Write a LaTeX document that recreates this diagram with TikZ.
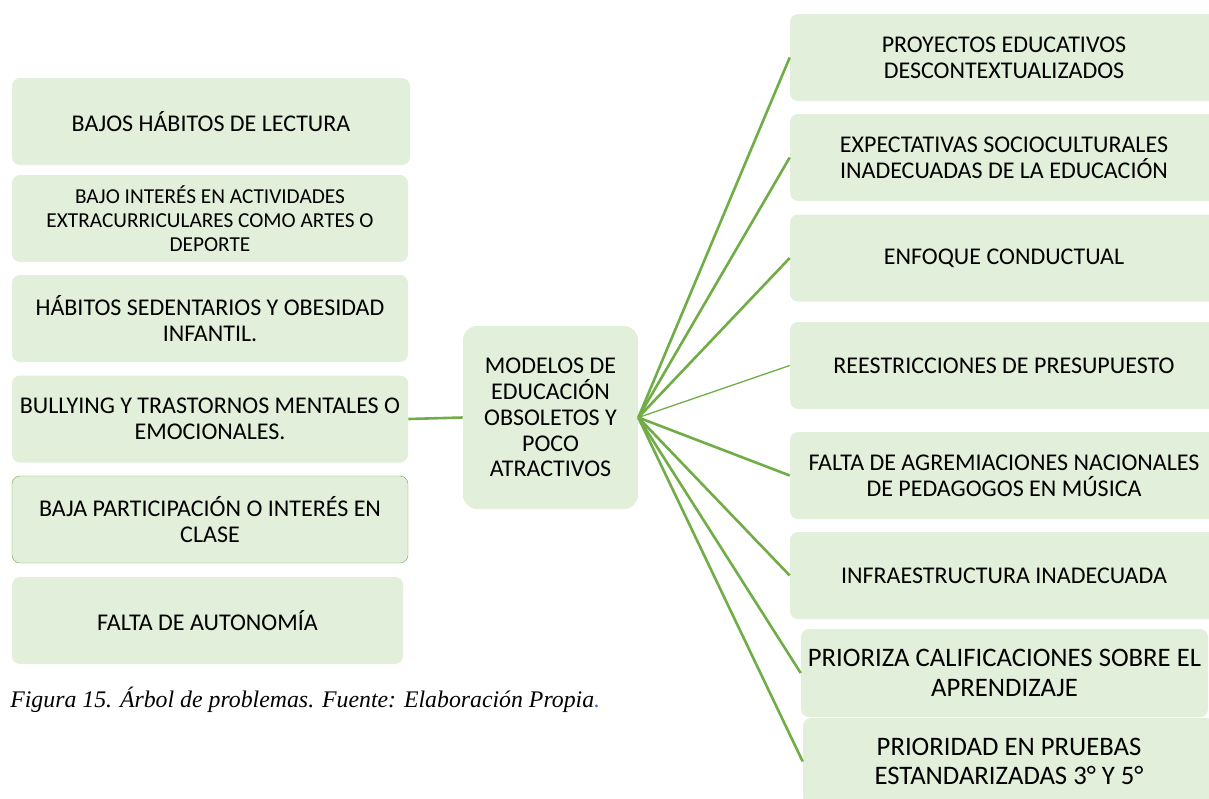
\documentclass[tikz,border=0pt]{standalone}
\usepackage{fontspec}
\setmainfont{Carlito}
\newfontfamily\capfont{Liberation Serif}
\usetikzlibrary{positioning}
\definecolor{boxgreen}{HTML}{E2EFDA}
\definecolor{linegreen}{HTML}{70AD47}
\definecolor{capblue}{HTML}{4472C4}

\begin{document}
\begin{tikzpicture}[x=1pt,y=-1pt,semithick]
 \tikzset{
 	cause node/.style={rectangle,rounded corners=8pt,fill=boxgreen,align=center,inner sep=2pt,
 	  minimum width=397pt,minimum height=87pt,font=\fontsize{24}{25.8}\selectfont},
 	small node/.style={cause node,font=\fontsize{21.3}{24}\selectfont},
 	effect node/.style={cause node,minimum width=428pt},
 	big node/.style={cause node,minimum width=407pt,minimum height=88pt,font=\fontsize{26.7}{29.5}\selectfont},
 	core node/.style={cause node,rounded corners=14pt,minimum width=175pt,minimum height=183pt},
 	link/.style={draw=linegreen,line width=2.6pt},
 	thin link/.style={draw=linegreen,line width=1.3pt}
 }
 \useasboundingbox (0,0) rectangle (1209,798);

       % left column
       \node[cause node,minimum width=398pt] (c1) at (211,121.5) {BAJOS HÁBITOS DE LECTURA};
       \node[small node,minimum width=396pt] (c2) at (210,218.5) {BAJO INTERÉS EN ACTIVIDADES\\EXTRACURRICULARES COMO ARTES O\\DEPORTE};
       \node[cause node,minimum width=396pt] (c3) at (210,318.5) {HÁBITOS SEDENTARIOS Y OBESIDAD\\INFANTIL.};
       \node[cause node,minimum width=396pt] (c4) at (210,419) {BULLYING Y TRASTORNOS MENTALES O\\EMOCIONALES.};
       \node[cause node,minimum width=396pt,draw=linegreen,thin] (c5) at (210,519.5) {BAJA PARTICIPACIÓN O INTERÉS EN\\CLASE};
       \node[cause node,minimum width=391pt] (c6) at (207.5,620.5) {FALTA DE AUTONOMÍA};

       % centre
       \node[core node] (M) at (550.5,417.5) {MODELOS DE\\EDUCACIÓN\\OBSOLETOS Y\\POCO\\ATRACTIVOS};

       % right column
       \node[effect node] (e1) at (1004,57.5) {PROYECTOS EDUCATIVOS\\DESCONTEXTUALIZADOS};
       \node[effect node] (e2) at (1004,157.5) {EXPECTATIVAS SOCIOCULTURALES\\INADECUADAS DE LA EDUCACIÓN};
       \node[effect node] (e3) at (1004,258) {ENFOQUE CONDUCTUAL};
       \node[effect node] (e4) at (1004,365.5) {REESTRICCIONES DE PRESUPUESTO};
       \node[effect node] (e5) at (1004,475.5) {FALTA DE AGREMIACIONES NACIONALES\\DE PEDAGOGOS EN MÚSICA};
       \node[effect node] (e6) at (1004,575.5) {INFRAESTRUCTURA INADECUADA};
       \node[big node] (e7) at (1004.5,673) {PRIORIZA CALIFICACIONES SOBRE EL\\APRENDIZAJE};
       \node[big node,minimum width=412pt,minimum height=87pt] (e8) at (1009,761.5) {PRIORIDAD EN PRUEBAS\\ESTANDARIZADAS 3° Y 5°};

       \node[anchor=west,inner sep=0pt,font=\capfont\itshape\fontsize{23.8}{26}\selectfont] (cap) at (10,700)
         {Figura 15. Árbol de problemas. Fuente: Elaboración Propia\textcolor{capblue}{.}};

     \path[link]  (c4.east) edge (M.west);
     \path[link]  (M.east) edge (e1.west);
     \path[link]  (M.east) edge (e2.west);
     \path[link]  (M.east) edge (e3.west);
     \path[thin link]  (M.east) edge (e4.west);
     \path[link]  (M.east) edge (e5.west);
     \path[link]  (M.east) edge (e6.west);
     \path[link]  (M.east) edge (e7.west);
     \path[link]  (M.east) edge (e8.west);
 \end{tikzpicture}
\end{document}
